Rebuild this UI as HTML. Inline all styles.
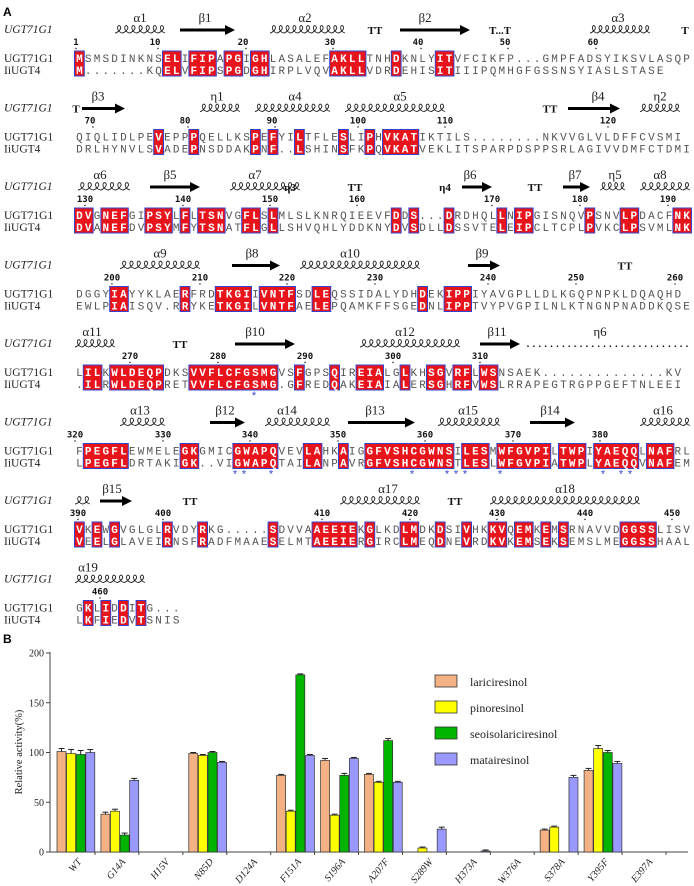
<!DOCTYPE html>
<html><head><meta charset="utf-8">
<style>
html,body{margin:0;padding:0;background:#fff;}
#root{position:relative;width:694px;height:886px;overflow:hidden;}
svg{position:absolute;left:0;top:0;}
</style></head>
<body>
<div id="root">
<svg id="aln" width="694" height="640"></svg>
<svg id="chart" width="694" height="886" style="pointer-events:none"></svg>
</div>
<script>
// ---------- Bar chart data ----------
const categories = ["WT","G14A","H15V","N85D","D124A","F151A","S196A","A207F","S289W","H373A","W376A","S378A","Y395F","E397A"];
const seriesNames = ["lariciresinol","pinoresinol","seoisolariciresinol","matairesinol"];
const lariciresinol = [101,38,0,99,0,77,92,78,0,0,0,22,82,0];
const pinoresinol = [99,41,0,97,0,41,37,70,4,0,0,25,104,0];
const seoisolariciresinol = [98,17,0,100,0,178,77,112,0,0,0,0,100,0];
const matairesinol = [100,72,0,90,0,97,94,70,23,1,0,75,89,0];
const errLar = [3,2,0,1,0,1,2,1,0,0,0,1,2,0];
const errPin = [4,2,0,1,0,1,1,1,1,0,0,1,3,0];
const errSeo = [4,2,0,1,0,1,2,2,0,0,0,0,2,0];
const errMat = [3,2,0,1,0,1,1,1,2,1,0,2,2,0];
const yTicks = [0,50,100,150,200];
const seriesColors = ["#f4b183","#ffff00","#00b400","#9999ff"];

// ---------- Alignment data ----------
const blocks = [
 {s1:"MSMSDINKNSELIFIPAPGIGHLASALEFAKLLTNHDKNLYITVFCIKFP...GMPFADSYIKSVLASQP",
  s2:"M.......KQELVFIPSPGDGHIRPLVQVAKLLVDRDEHISITIIIPQMHGFGSSNSYIASLSTASE",
  nums:[["1",76],["10",155],["20",243],["30",330],["40",418],["50",505],["60",593]],
  ss:[["coil",115,165,"α1",140],["arrow",180,235,"β1",205],["coil",270,345,"α2",305],["txt",375,0,"TT",0],["arrow",400,470,"β2",425],["txt",500,0,"T...T",0],["coil",590,650,"α3",618],["txt",685,0,"T",0]],stars:[]},
 {s1:"QIQLIDLPEVEPPPQELLKSPEFYILTFLESLIPHVKATIKTILS........NKVVGLVLDFFCVSMI",
  s2:"DRLHYNVLSVADEPNSDDAKPNF..LSHINSFKPQVKATVEKLITSPARPDSPPSRLAGIVVDMFCTDMI",
  nums:[["70",90],["80",185],["90",272],["100",358],["110",445],["120",608]],
  ss:[["txt",76,0,"T",0],["arrow",82,125,"β3",98],["coil",200,240,"η1",217],["coil",255,330,"α4",295],["coil",345,445,"α5",400],["txt",550,0,"TT",0],["arrow",568,620,"β4",598],["coil",640,680,"η2",660]],stars:[]},
 {s1:"DVGNEFGIPSYLFLTSNVGFLSLMLSLKNRQIEEVFDDS...DRDHQLLNIPGISNQVPSNVLPDACFNK",
  s2:"DVANEFDVPSYMFYTSNATFLGLLSHVQHLYDDKNYDVSDLLDSSVTELEIPCLTCPLPVKCLPSVMLNK",
  nums:[["130",85],["140",183],["150",270],["160",357],["170",492],["180",580],["190",668]],
  ss:[["coil",78,130,"α6",100],["arrow",150,200,"β5",170],["coil",230,300,"α7",255],["txt",290,0,"η3",0],["txt",355,0,"TT",0],["txt",445,0,"η4",0],["arrow",462,492,"β6",470],["txt",535,0,"TT",0],["arrow",563,590,"β7",575],["coil",600,625,"η5",615],["coil",640,690,"α8",660]],stars:[]},
 {s1:"DGGYIAYYKLAERFRDTKGIIVNTFSDLEQSSIDALYDHDEKIPPIYAVGPLLDLKGQPNPKLDQAQHD",
  s2:"EWLPIAISQV.RRYKETKGILVNTFAELEPQAMKFFSGEDNLIPPTVYPVGPILNLKTNGNPNADDKQSE",
  nums:[["200",112],["210",200],["220",287],["230",375],["240",488],["250",576],["260",675]],
  ss:[["coil",120,200,"α9",160],["arrow",232,280,"β8",252],["coil",300,420,"α10",350],["arrow",468,500,"β9",482],["txt",625,0,"TT",0]],stars:[]},
 {s1:"LILKWLDEQPDKSVVFLCFGSMGVSFGPSQIREIALGLKHSGVRFLWSNSAEK..............KV",
  s2:".ILRWLDEQPRETVVFLCFGSMG.GFREDQAKEIAIALERSGHRFVWSLRRAPEGTRGPPGEFTNLEEI",
  nums:[["270",130],["280",218],["290",305],["300",393],["310",480]],
  ss:[["coil",75,115,"α11",92],["txt",180,0,"TT",0],["arrow",235,295,"β10",255],["coil",360,460,"α12",405],["arrow",480,520,"β11",497],["dots",525,690,"η6",600]],stars:[254]},
 {s1:"FPEGFLEWMELEGKGMICGWAPQVEVLAHKAIGGFVSHCGWNSILESMWFGVPILTWPIYAEQQLNAFRL",
  s2:"LPEGFLDRTAKIGK..VIGWAPQTAILANPAVRGFVSHCGWNSTLESLWFGVPIATWPLYAEQQVNAFEM",
  nums:[["320",75],["330",163],["340",250],["350",338],["360",425],["370",513],["380",600]],
  ss:[["coil",120,165,"α13",140],["arrow",210,245,"β12",225],["coil",265,330,"α14",287],["arrow",348,415,"β13",375],["coil",438,500,"α15",468],["arrow",530,575,"β14",550],["coil",640,690,"α16",663]],stars:[235,244,271,412,447,456,465,500,603,621,630]},
 {s1:"VKEWGVGLGLRVDYRKG.....SDVVAAEEIEKGLKDLMDKDSIVHKKVQEMKEMSRNAVVDGGSSLISV",
  s2:"VEELGLAVEIRNSFRADFMAAESELMTAEEIERGIRCLMEQDNEVRDKVKEMSEKSEMSLMEGGSSHAAL",
  nums:[["390",78],["400",163],["410",322],["420",410],["430",497],["440",585],["450",672]],
  ss:[["coil",75,90,"",0],["arrow",100,132,"β15",112],["txt",190,0,"TT",0],["coil",340,420,"α17",388],["txt",455,0,"TT",0],["coil",490,640,"α18",565]],stars:[]},
 {s1:"GKLIDDITG...",
  s2:"LKFIEDVTSNIS",
  nums:[["460",100]],
  ss:[["coil",75,145,"α19",88]],stars:[]}
];

const NS="http://www.w3.org/2000/svg";
function mk(parent,tag,attrs){const e=document.createElementNS(NS,tag);for(const k in attrs)e.setAttribute(k,attrs[k]);parent.appendChild(e);return e;}

// ---------- Draw alignment ----------
const aln=document.getElementById('aln');
const X0=75, CW=8.8;
const A=mk(aln,'text',{x:3,y:16,'font-family':'Liberation Sans, sans-serif','font-size':12,'font-weight':'bold'});
A.textContent='A';


blocks.forEach((b,bi)=>{
  const r1=58+bi*78.5, r2=r1+12;
  const g=mk(aln,'g',{});
  
  
  // header
  const h=mk(g,'text',{x:4,y:r1-25,'font-family':'Liberation Serif, serif','font-size':11.5,'font-style':'italic',fill:'#222'});
  h.textContent='UGT71G1';
  
  
  // names
  const n1=mk(g,'text',{x:4,y:r1+4,'font-family':'Liberation Serif, serif','font-size':11.5,fill:'#222'});
  n1.textContent='UGT71G1';
  
  
  const n2=mk(g,'text',{x:4,y:r2+4,'font-family':'Liberation Serif, serif','font-size':11.5,fill:'#222'});
  n2.textContent='IiUGT4';
  
  
  // identity boxes
  const L=Math.max(b.s1.length,b.s2.length);
  let run=null;const runs=[];
  for(let i=0;i<=L;i++){
    const a=b.s1[i],c=b.s2[i];
    const id=(i<L && a && a===c && a!=='.');
    if(id){ if(run===null) run=i; } else if(run!==null){runs.push([run,i]);run=null;}
  }
  runs.forEach(([s,e])=>{
    const r=mk(g,'rect',{x:X0+s*CW-0.5,y:r1-7,width:(e-s)*CW+1,height:25,fill:'#e8141b',stroke:'#3344cc','stroke-width':1});
    
    
  });
  [[b.s1,r1],[b.s2,r2]].forEach(([s,y])=>{
    for(let i=0;i<s.length;i++){
      const ch=s[i];const id=(b.s1[i]===b.s2[i] && ch!=='.');
      const t=mk(g,'text',{x:X0+i*CW+CW/2,y:y+4,'text-anchor':'middle','font-family':'Liberation Mono, monospace','font-size':11,fill:id?'#fff':'#555','font-weight':id?'bold':'normal'});
      t.textContent=ch;
    }
  });
  // numbers
  b.nums.forEach(([lab,x])=>{
    const t=mk(g,'text',{x:x,y:r1-13,'text-anchor':'middle','font-family':'DejaVu Sans Mono, monospace','font-size':9,'font-weight':'bold',fill:'#111'});
    t.textContent=lab;
    mk(g,'circle',{cx:x+(lab.length>1?(lab.length===2?3:0):0),cy:r1-9.5,r:0.7,fill:'#111'});
  });
  // secondary structure
  const yy=r1-28;
  b.ss.forEach(([type,x1,x2,lab,lx])=>{
    if(type==='coil'){
      let d='';const n=Math.max(1,Math.round((x2-x1)/7));const w=(x2-x1)/n;
      for(let k=0;k<n;k++){const sx=x1+k*w;d+=`M${sx} ${yy+3} C ${sx+w*0.2} ${yy+3}, ${sx+w*1.1} ${yy-1}, ${sx+w*0.7} ${yy-4} C ${sx+w*0.3} ${yy-6}, ${sx+w*0.1} ${yy+1}, ${sx+w} ${yy+3} `;}
      const p=mk(g,'path',{d:d,fill:'none',stroke:'#222','stroke-width':0.9});
      
      
    } else if(type==='arrow'){
      mk(g,'line',{x1:x1,y1:yy,x2:x2-8,y2:yy,stroke:'#000','stroke-width':3});
      const p=mk(g,'path',{d:`M${x2-10} ${yy-5} L${x2} ${yy} L${x2-10} ${yy+5} Z`,fill:'#000'});
      
      
    } else if(type==='txt'){
      const t=mk(g,'text',{x:x1,y:yy+4,'text-anchor':'middle','font-family':'Liberation Serif, serif','font-size':11,'font-weight':'bold',fill:'#111'});
      t.textContent=lab;
      lab='';
    } else if(type==='dots'){
      const t=mk(g,'text',{x:x1,y:yy+3,'font-family':'Liberation Mono, monospace','font-size':10,'font-weight':'bold',fill:'#111','textLength':x2-x1});
      t.textContent='.'.repeat(Math.round((x2-x1)/6));
    }
    if(lab){
      const t=mk(g,'text',{x:lx,y:yy-8,'text-anchor':'middle','font-family':'Liberation Serif, serif','font-size':13,fill:'#222'});
      t.textContent=lab;
    }
  });
  b.stars.forEach(x=>{
    const t=mk(g,'text',{x:x,y:r2+15,'text-anchor':'middle','font-family':'Liberation Sans, sans-serif','font-size':11,fill:'#3344cc'});
    t.textContent='*';
  });
});

// ---------- Draw chart ----------
const ch=document.getElementById('chart');
const axX=50, axR=688, y0=852, y200=653;
const yScale=v=>y0-(v/200)*(y0-y200);
const step=(646-75)/(categories.length-1);
const xCenter=i=>76+i*step;
const BW=9;
const B=mk(ch,'text',{x:3,y:643,'font-family':'Liberation Sans, sans-serif','font-size':12,'font-weight':'bold'});
B.textContent='B';


const yaxis=mk(ch,'line',{x1:axX,y1:y200-1,x2:axX,y2:y0,stroke:'#444','stroke-width':1});


const xaxis=mk(ch,'line',{x1:axX,y1:y0,x2:axR,y2:y0,stroke:'#444','stroke-width':1});


yTicks.forEach(v=>{
  mk(ch,'line',{x1:axX-4,y1:yScale(v),x2:axX,y2:yScale(v),stroke:'#444'});
  const t=mk(ch,'text',{x:axX-6,y:yScale(v)+3.5,'text-anchor':'end','font-family':'Liberation Serif, serif','font-size':10,fill:'#222'});
  t.textContent=v;
  
  
});
const yt=mk(ch,'text',{x:0,y:0,transform:'translate(22,752) rotate(-90)','text-anchor':'middle','font-family':'Liberation Serif, serif','font-size':10.5,fill:'#222'});
yt.textContent='Relative activity(%)';


const allSeries=[lariciresinol,pinoresinol,seoisolariciresinol,matairesinol];
const allErr=[errLar,errPin,errSeo,errMat];
categories.forEach((c,i)=>{
  const cx=xCenter(i);
  mk(ch,'line',{x1:cx+19,y1:y0,x2:cx+19,y2:y0+3,stroke:'#444'});
  allSeries.forEach((s,k)=>{
    const v=s[i];
    const x=cx-19+k*(BW+0.6);
    if(v>0){
      const r=mk(ch,'rect',{x:x,y:yScale(v),width:BW,height:y0-yScale(v),fill:seriesColors[k],stroke:'#333','stroke-width':0.7});
      
      
      const e=allErr[k][i];
      if(e>0){
        mk(ch,'line',{x1:x+BW/2,y1:yScale(v),x2:x+BW/2,y2:yScale(v+e),stroke:'#222','stroke-width':1});
        mk(ch,'line',{x1:x+BW/2-3,y1:yScale(v+e),x2:x+BW/2+3,y2:yScale(v+e),stroke:'#222','stroke-width':1});
      }
    }
  });
  const t=mk(ch,'text',{x:0,y:0,transform:`translate(${cx+6},${y0+10}) rotate(-50)`,'text-anchor':'end','font-family':'Liberation Serif, serif','font-size':10,'font-style':'italic',fill:'#222'});
  t.textContent=c;
  
  
});
seriesNames.forEach((n,k)=>{
  const y=682+k*26;
  const sw=mk(ch,'rect',{x:435,y:y-7,width:22,height:12,fill:seriesColors[k],stroke:'#333','stroke-width':0.8});
  
  
  const t=mk(ch,'text',{x:470,y:y+4,'font-family':'Liberation Serif, serif','font-size':12,fill:'#222'});
  t.textContent=n;
  
  
});
</script>
</body></html>
